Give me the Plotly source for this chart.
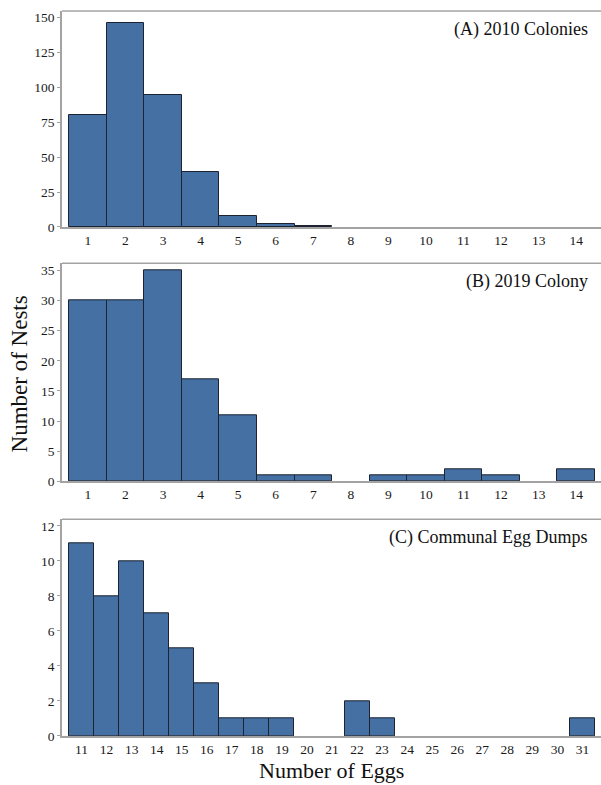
import plotly.graph_objects as go

# ---- data ----
eggs_ab = list(range(1, 15))
nests_2010 = [80, 146, 94, 39, 8, 2, 1, 0, 0, 0, 0, 0, 0, 0]
nests_2019 = [30, 30, 35, 17, 11, 1, 1, 0, 1, 1, 2, 1, 0, 2]
eggs_c = list(range(11, 32))
dumps = [11, 8, 10, 7, 5, 3, 1, 1, 1, 0, 0, 2, 1, 0, 0, 0, 0, 0, 0, 0, 1]

panel_labels = ["(A) 2010 Colonies", "(B) 2019 Colony", "(C) Communal Egg Dumps"]
y_title = "Number of Nests"
x_title = "Number of Eggs"

BAR = "#4470a4"
EDGE = "#1d2330"
AX = "#a3a3a3"
FONT = "Liberation Serif"

fig = go.Figure()
series = [(eggs_ab, nests_2010), (eggs_ab, nests_2019), (eggs_c, dumps)]
for i, (xs, ys) in enumerate(series):
    sfx = "" if i == 0 else str(i + 1)
    fig.add_trace(go.Bar(
        x=xs, y=ys, width=1,
        marker=dict(color=BAR, line=dict(color=EDGE, width=[1 if v > 0 else 0 for v in ys])),
        xaxis="x" + sfx, yaxis="y" + sfx, showlegend=False,
    ))

domains = [[0.7021, 1.0], [0.3513, 0.652], [0.0, 0.2989]]
xranges = [[0.31, 14.66], [0.31, 14.66], [10.22, 31.74]]
xtick0 = [1, 1, 11]
yranges = [[0, 154.4], [0, 36.2], [0, 12.38]]
ydticks = [25, 5, 2]

tickfont = dict(family=FONT, size=13.5, color="#1a1a1a")
layout = dict(
    width=601, height=785,
    margin=dict(l=62, r=0, t=11, b=49),
    paper_bgcolor="white", plot_bgcolor="white",
    bargap=0,
    font=dict(family=FONT, color="#111111"),
    annotations=[], shapes=[],
)
for i in range(3):
    sfx = "" if i == 0 else str(i + 1)
    layout["xaxis" + sfx] = dict(
        domain=[0, 1], anchor="y" + sfx, range=xranges[i],
        tickmode="linear", tick0=xtick0[i], dtick=1,
        showgrid=False, zeroline=False, showline=True, linecolor=AX, linewidth=1.5,
        ticks="", tickfont=tickfont, fixedrange=True,
    )
    layout["yaxis" + sfx] = dict(
        domain=domains[i], anchor="x" + sfx, range=yranges[i],
        tickmode="linear", tick0=0, dtick=ydticks[i],
        showgrid=False, zeroline=False, showline=True, linecolor=AX, linewidth=1.5,
        ticks="outside", ticklen=3, tickcolor=AX, tickfont=tickfont, fixedrange=True,
    )
    layout["shapes"].append(dict(
        type="line", xref="x" + sfx + " domain", yref="y" + sfx + " domain",
        x0=0, x1=1, y0=1, y1=1, line=dict(color=AX, width=1.5),
    ))
    layout["annotations"].append(dict(
        text=panel_labels[i], xref="x" + sfx + " domain", yref="y" + sfx + " domain",
        x=0.98, y=1, xanchor="right", yanchor="top", yshift=-6, showarrow=False,
        font=dict(family=FONT, size=18, color="#111111"),
    ))

layout["annotations"].append(dict(
    text=y_title, xref="paper", yref="paper", x=-0.078, y=0.5,
    xanchor="center", yanchor="middle", textangle=-90, showarrow=False,
    font=dict(family=FONT, size=23, color="#111111"),
))
layout["annotations"].append(dict(
    text=x_title, xref="paper", yref="paper", x=0.5, y=-0.047,
    xanchor="center", yanchor="middle", showarrow=False,
    font=dict(family=FONT, size=22, color="#111111"),
))

fig.update_layout(**layout)
fig.write_html(
    "out.html",
    config={"displayModeBar": False},
    post_script="document.body.style.margin='0';document.body.style.overflow='hidden';",
)
